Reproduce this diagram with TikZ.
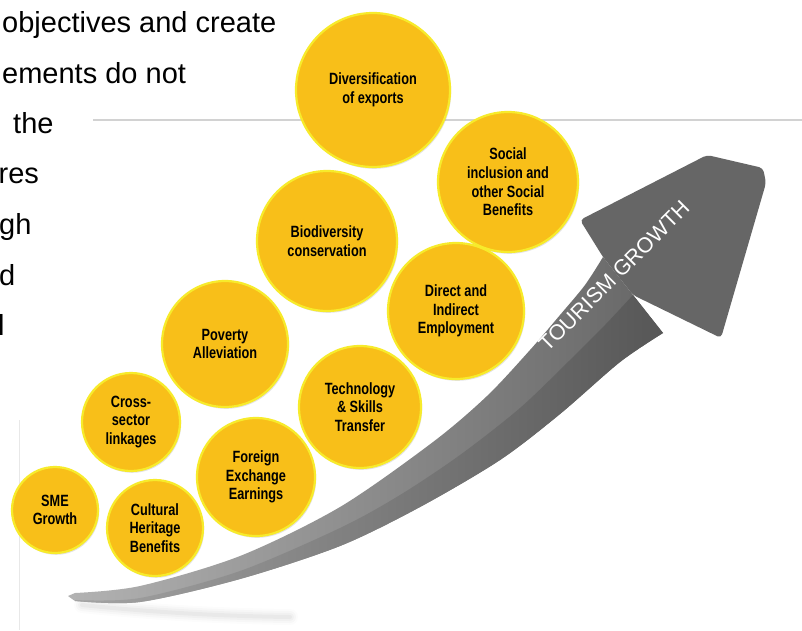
\documentclass[tikz,border=0pt]{standalone}
\usepackage{fontspec}
\setmainfont{Liberation Sans}
\newfontfamily\narrowfont[FakeStretch=0.78]{Liberation Sans}
\usetikzlibrary{shadows}
\definecolor{bubfill}{HTML}{F8BF19}
\definecolor{bubedge}{HTML}{F7EB2B}
\definecolor{headgray}{HTML}{666666}
\definecolor{hlinegray}{HTML}{D2D2D2}
\definecolor{vlinegray}{HTML}{E8E8E8}
\tikzset{
  bub/.style={circle, fill=bubfill, draw=bubedge, line width=2.2pt, inner sep=0pt,
    align=center, text=black,
    font=\narrowfont\bfseries\fontsize{16.3}{18.7}\selectfont,
    drop shadow={shadow xshift=1.2pt, shadow yshift=-1.8pt, opacity=0.22}},
  slide/.style={anchor=base west, inner sep=0pt, text=black,
    font=\fontsize{29}{34}\selectfont},
  arrowlabel/.style={text=white, inner sep=0pt, font=\fontsize{21.5}{24}\selectfont}
}
\begin{document}
\begin{tikzpicture}[x=1pt,y=-1pt]
\useasboundingbox (0,0) rectangle (802,630);
\fill[white] (0,0) rectangle (802,630);

% slide text (cut off at the left)
\node[slide] (t1) at (2,32) {objectives and create};
\node[slide] (t2) at (2,83) {ements do not};
\node[slide] (t3) at (13,133) {the};
\node[slide] (t4) at (-1.5,183) {res};
\node[slide] (t5) at (-1,234) {gh};
\node[slide] (t6) at (-1,285) {d};
\node[slide] (t7) at (-2,335) {l};

% picture frame lines
\draw[hlinegray, line width=1.2pt] (93,120) -- (802,120);
\draw[vlinegray, line width=1pt] (19.5,420) -- (19.5,630);

% soft shadow under the tail
\foreach \w/\o in {16/0.012, 12/0.018, 8/0.024, 4/0.03}
  \draw[black, line width=\w pt, opacity=\o, line cap=round]
    (82,605) .. controls (140,611) and (210,616) .. (290,617);

% arrow shaft: top face
\path[left color=black!30, middle color=black!52, right color=black!60]
  plot[smooth] coordinates {(603,257) (585,285) (560,315) (530,350) (487,396)
     (433,442) (340,507) (240,556) (140,586) (75,593)}
  -- (68,596) --
  plot[smooth] coordinates {(75,601) (140,602) (240,579) (340,546) (420,507)
     (500,460) (560,414) (620,362) (663,333)}
  -- (633,295) -- cycle;
% arrow shaft: side face
\path[left color=black!36, middle color=black!56, right color=black!66]
  plot[smooth] coordinates {(75,600) (140,598) (240,571) (340,528) (400,495)
     (460,455) (520,408) (570,360) (605,325) (633,295)}
  -- (663,333) --
  plot[smooth] coordinates {(663,333) (620,362) (560,414) (500,460) (420,507)
     (340,546) (240,579) (140,602) (75,601)}
  -- cycle;
% arrow head
\fill[headgray, rounded corners=4pt]
  (603,257) -- (580,220) -- (707,155) -- (763,168) -- (766,183)
  -- (721,338) -- (633,295) -- cycle;
\node[arrowlabel, rotate=45] (lbl) at (614,276) {TOURISM GROWTH};

% bubbles
\node[bub, minimum size=154pt] (c1) at (373,90) {Diversification\\of exports};
\node[bub, minimum size=140pt] (c2) at (508,182) {Social\\inclusion and\\other Social\\Benefits};
\node[bub, minimum size=140pt] (c3) at (327,241) {Biodiversity\\conservation};
\node[bub, minimum size=136pt] (c4) at (456,311) {Direct and\\Indirect\\Employment};
\node[bub, minimum size=126pt] (c5) at (225,344) {Poverty\\Alleviation};
\node[bub, minimum size=122pt] (c6) at (360,407) {Technology\\\& Skills\\Transfer};
\node[bub, minimum size=98pt] (c7) at (131,422) {Cross-\\sector\\linkages};
\node[bub, minimum size=118pt] (c8) at (256,477) {Foreign\\Exchange\\Earnings};
\node[bub, minimum size=86pt] (c9) at (55,510) {SME\\Growth};
\node[bub, minimum size=96pt] (c10) at (155,528) {Cultural\\Heritage\\Benefits};
\end{tikzpicture}
\end{document}
